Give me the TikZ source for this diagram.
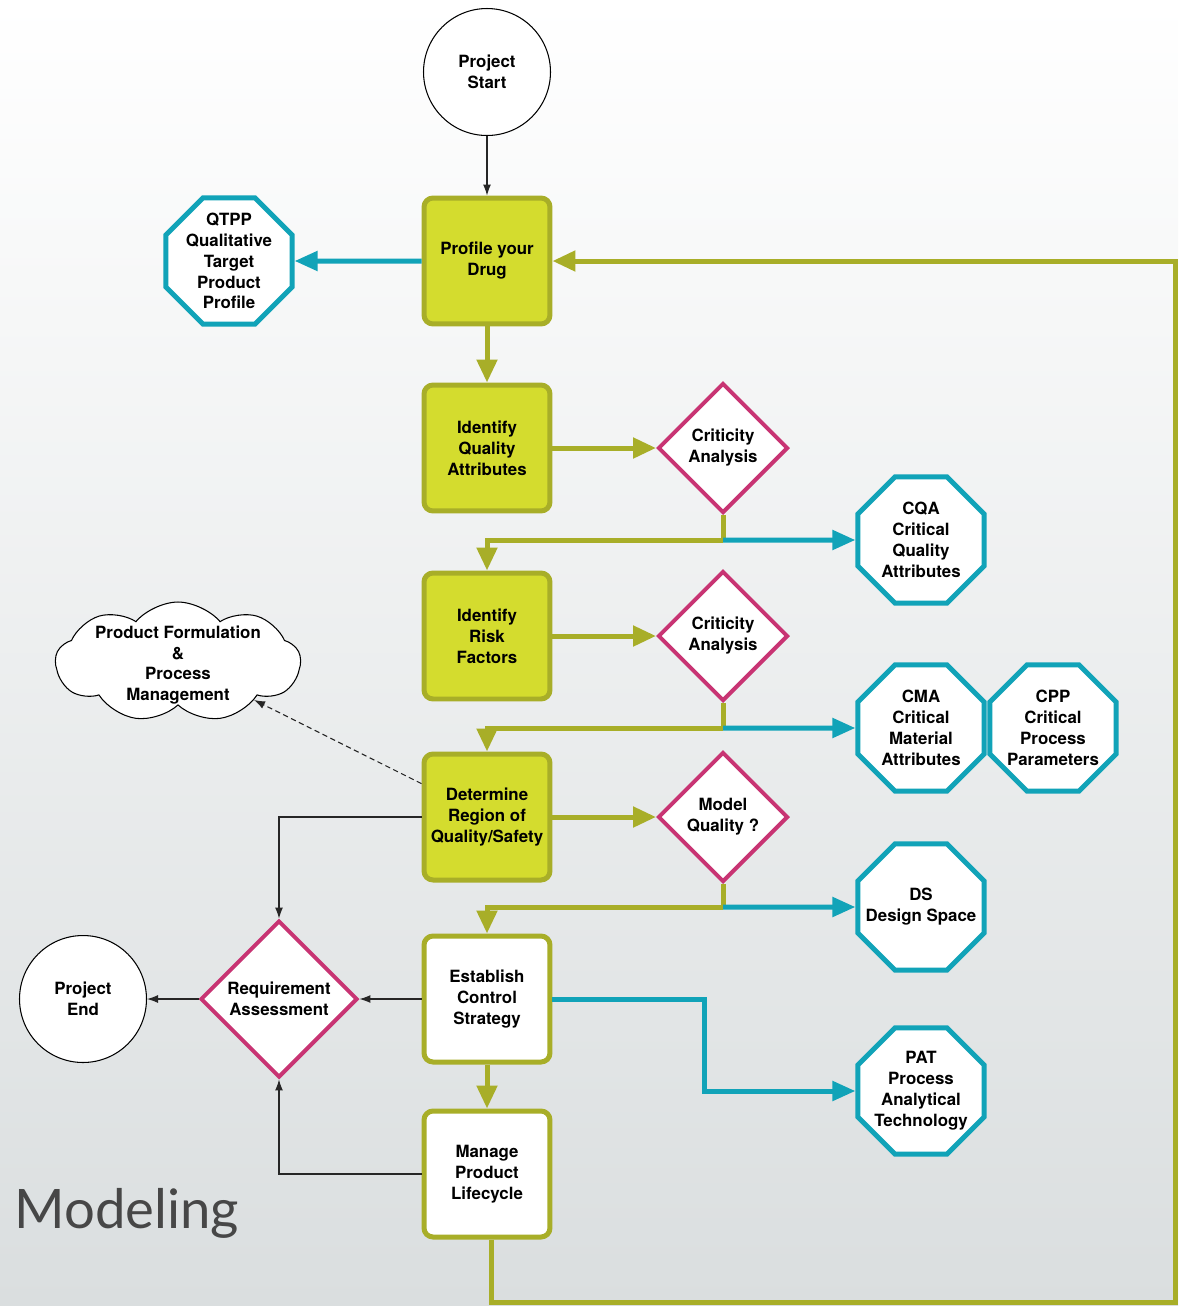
\documentclass[tikz,border=0pt]{standalone}
\usepackage{fontspec}
\setmainfont{TeX Gyre Heros}
\newfontfamily\modfont{Lato}
\usetikzlibrary{shapes.geometric,shapes.symbols,arrows.meta,calc}
\definecolor{lime}{RGB}{212,220,46}
\definecolor{limeb}{RGB}{168,174,40}
\definecolor{tealc}{RGB}{17,163,184}
\definecolor{mag}{RGB}{200,52,115}
\definecolor{bgb}{RGB}{218,222,223}
\begin{document}
\begin{tikzpicture}[x=0.02cm,y=-0.02cm,
  every node/.style={font=\bfseries\fontsize{9.6}{11.9}\selectfont, align=center, inner sep=0pt},
  stepbox/.style={rectangle, rounded corners=0.18cm, draw=limeb, line width=0.1cm, minimum width=2.52cm, minimum height=2.52cm, fill=lime},
  whitebox/.style={stepbox, fill=white},
  octa/.style={regular polygon, regular polygon sides=8, draw=tealc, fill=white, line width=0.1cm, minimum size=2.73cm, inner sep=-10pt},
  dia/.style={diamond, draw=mag, fill=white, line width=0.08cm, minimum width=2.6cm, minimum height=2.6cm},
  circ/.style={circle, draw=black, line width=0.6pt, fill=white, minimum size=2.54cm},
  limearrow/.style={draw=limeb, line width=0.1cm, -{Triangle[length=0.46cm,width=0.4cm]}},
  limeline/.style={draw=limeb, line width=0.1cm},
  tealarrow/.style={draw=tealc, line width=0.1cm, -{Triangle[length=0.46cm,width=0.38cm]}},
  thinarrow/.style={draw=black!85, line width=0.6pt, -{Latex[length=0.22cm,width=0.16cm]}}
]
\shade[top color=white, bottom color=bgb] (0,0) rectangle (1178,1306);
\useasboundingbox (0,0) rectangle (1178,1306);

% nodes
\node[circ] (start) at (487,72) {Project\\Start};
\node[stepbox] (profile) at (487,261) {Profile your\\Drug};
\node[octa] (qtpp) at (229,261) {QTPP\\Qualitative\\Target\\Product\\Profile};
\node[stepbox] (iqa) at (487,448) {Identify\\Quality\\Attributes};
\node[dia] (crit1) at (723,448) {Criticity\\Analysis};
\node[octa] (cqa) at (921,540) {CQA\\Critical\\Quality\\Attributes};
\node[stepbox] (irf) at (487,636) {Identify\\Risk\\Factors};
\node[dia] (crit2) at (723,636) {Criticity\\Analysis};
\node[octa] (cma) at (921,728) {CMA\\Critical\\Material\\Attributes};
\node[octa] (cpp) at (1053,728) {CPP\\Critical\\Process\\Parameters};
\node[stepbox] (det) at (487,817) {Determine\\Region of\\Quality/Safety};
\node[dia] (mq) at (723,817) {Model\\Quality ?};
\node[octa] (ds) at (921,907) {DS\\Design Space};
\node[whitebox] (est) at (487,999) {Establish\\Control\\Strategy};
\node[whitebox] (man) at (487,1174) {Manage\\Product\\Lifecycle};
\node[octa] (pat) at (921,1091) {PAT\\Process\\Analytical\\Technology};
\node[dia, minimum width=3.14cm, minimum height=3.14cm] (req) at (279,999) {Requirement\\Assessment};
\node[circ] (end) at (83,999) {Project\\End};
\node[cloud, cloud puffs=9, cloud puff arc=100, aspect=2, draw=black, fill=white, line width=0.6pt, minimum width=4.9cm, minimum height=2.4cm] (cloud) at (178,662) {};
\node (cloudtxt) at (178,665) {Product Formulation\\\&\\Process\\Management};
\node[anchor=base west, font=\modfont\fontsize{31}{31}\selectfont, text=black!72] (mod) at (14,1228) {Modeling};

% connectors
\draw[thinarrow] (start) -- (profile);
\draw[tealarrow] (profile) -- (qtpp);
\draw[limearrow] (profile) -- (iqa);
\draw[limearrow] (iqa) -- (crit1);
\coordinate (j1) at (723,540);
\draw[limeline] (crit1.south) -- (j1);
\draw[limearrow] (j1) -| (irf.north);
\draw[tealarrow] (j1) -- (cqa.west);
\draw[limearrow] (irf) -- (crit2);
\coordinate (j2) at (723,728);
\draw[limeline] (crit2.south) -- (j2);
\draw[limearrow] (j2) -| (det.north);
\draw[tealarrow] (j2) -- (cma.west);
\draw[limearrow] (det) -- (mq);
\coordinate (j3) at (723,907);
\draw[limeline] (mq.south) -- (j3);
\draw[limearrow] (j3) -| (est.north);
\draw[tealarrow] (j3) -- (ds.west);
\draw[tealarrow] (est.east) -- ++(152,0) |- (pat.west);
\draw[limearrow] (est) -- (man);
\coordinate (c1) at (1175,1302);
\draw[limearrow] ($(man.south)+(4,0)$) |- (c1) |- (profile.east);
\draw[thinarrow, densely dashed] (det.153) -- (cloud);
\draw[thinarrow] (det.west) -| (req.north);
\draw[thinarrow] (est.west) -- (req.east);
\draw[thinarrow] (req.west) -- (end.east);
\draw[thinarrow] (man.west) -| (req.south);
\end{tikzpicture}
\end{document}
